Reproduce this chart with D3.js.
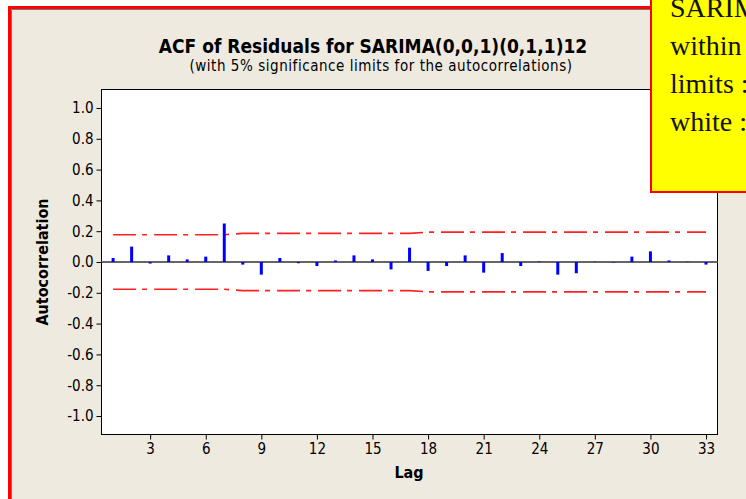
<!DOCTYPE html>
<html><head><meta charset="utf-8">
<script src="https://cdn.jsdelivr.net/npm/d3@7"></script>
<style>body{margin:0;background:#fff;overflow:hidden} svg{display:block}</style>
</head><body>
<svg id="c" width="746" height="499"></svg>
<script>
const lags = [1,2,3,4,5,6,7,8,9,10,11,12,13,14,15,16,17,18,19,20,21,22,23,24,25,26,27,28,29,30,31,32,33];
const acf = [0.026,0.100,-0.010,0.043,0.017,0.035,0.250,-0.017,-0.082,0.026,-0.008,-0.026,0.010,0.043,0.017,-0.048,0.093,-0.058,-0.026,0.043,-0.069,0.058,-0.026,0.003,-0.082,-0.073,0.002,-0.003,0.035,0.069,0.010,0.002,-0.017];
const upperLimit = [0.177,0.177,0.177,0.177,0.177,0.177,0.177,0.186,0.186,0.186,0.186,0.186,0.186,0.186,0.186,0.186,0.186,0.194,0.194,0.194,0.194,0.194,0.194,0.194,0.194,0.194,0.194,0.194,0.194,0.194,0.194,0.194,0.194];
const lowerLimit = [-0.177,-0.177,-0.177,-0.177,-0.177,-0.177,-0.177,-0.186,-0.186,-0.186,-0.186,-0.186,-0.186,-0.186,-0.186,-0.186,-0.186,-0.194,-0.194,-0.194,-0.194,-0.194,-0.194,-0.194,-0.194,-0.194,-0.194,-0.194,-0.194,-0.194,-0.194,-0.194,-0.194];
const xTicks = [3,6,9,12,15,18,21,24,27,30,33];
const yTicks = [1.0,0.8,0.6,0.4,0.2,0.0,-0.2,-0.4,-0.6,-0.8,-1.0];
const title = "ACF of Residuals for SARIMA(0,0,1)(0,1,1)12";
const subtitle = "(with 5% significance limits for the autocorrelations)";
const noteLines = ["SARIM", "within", "limits :", "white :"];

const svg = d3.select("#c");
const font = "'DejaVu Sans Condensed','DejaVu Sans',sans-serif";
const L = 101.5, R = 717.5, T = 89.5, B = 434.5;
const x = d3.scaleLinear().domain([0.374, 33.62]).range([L, R]);
const y = d3.scaleLinear().domain([-1.12, 1.12]).range([B, T]);

// outer frame
svg.append("rect").attr("x",0).attr("y",0).attr("width",746).attr("height",499).attr("fill","#fff");
svg.append("rect").attr("x",9.5).attr("y",7.5).attr("width",760).attr("height",520)
  .attr("fill","#EEEAE0").attr("stroke","#FF0000").attr("stroke-width",3);
svg.append("path").attr("d","M11.5,530 V9.5 H760").attr("fill","none").attr("stroke","#777").attr("stroke-width",1);

// title
svg.append("text").attr("x",373).attr("y",53).attr("text-anchor","middle")
  .attr("font-family",font).attr("font-weight","bold").attr("font-size",19).attr("fill","#000").text(title);
svg.append("text").attr("x",381).attr("y",71).attr("text-anchor","middle")
  .attr("font-family",font).attr("font-size",15).attr("letter-spacing",0.55).attr("fill","#000").text(subtitle);

// plot area
svg.append("rect").attr("x",L).attr("y",T).attr("width",R-L).attr("height",B-T)
  .attr("fill","#fff").attr("stroke","#000").attr("stroke-width",1);

// axes
const yAxis = d3.axisLeft(y).tickValues(yTicks).tickSize(5).tickPadding(3);
const gy = svg.append("g").attr("transform",`translate(${L},0)`).call(yAxis);
const xAxis = d3.axisBottom(x).tickValues(xTicks).tickSize(5).tickPadding(4);
const gx = svg.append("g").attr("transform",`translate(0,${B})`).call(xAxis);
[gx,gy].forEach(g=>{
  g.select(".domain").remove();
  g.selectAll("line").attr("stroke","#000");
  g.selectAll("text").attr("font-family",font).attr("font-size",15).attr("fill","#000");
});
gy.selectAll("text").text(d=>d3.format(".1f")(d).replace("−","-"));

// axis titles
svg.append("text").attr("transform","translate(48,262) rotate(-90)").attr("text-anchor","middle")
  .attr("font-family",font).attr("font-weight","bold").attr("font-size",16).text("Autocorrelation");
svg.append("text").attr("x",409).attr("y",478).attr("text-anchor","middle")
  .attr("font-family",font).attr("font-weight","bold").attr("font-size",16).text("Lag");

// zero line
svg.append("line").attr("x1",L).attr("x2",R).attr("y1",y(0)).attr("y2",y(0))
  .attr("stroke","#666").attr("stroke-width",2);

// limits
const line = d3.line().x((d,i)=>x(lags[i])).y(d=>y(d));
[upperLimit, lowerLimit].forEach(arr=>{
  svg.append("path").attr("d",line(arr)).attr("fill","none")
    .attr("stroke","#FF2020").attr("stroke-width",1.6).attr("stroke-dasharray","23,6,5,7");
});

// bars
svg.append("g").selectAll("line").data(acf).join("line")
  .attr("x1",(d,i)=>x(lags[i])).attr("x2",(d,i)=>x(lags[i]))
  .attr("y1",y(0)).attr("y2",d=>y(d))
  .attr("stroke","#0000FF").attr("stroke-width",3);

// yellow note box
svg.append("rect").attr("x",651).attr("y",-10).attr("width",120).attr("height",202)
  .attr("fill","#FFFF00").attr("stroke","#FF0000").attr("stroke-width",2);
svg.append("g").selectAll("text").data(noteLines).join("text")
  .attr("x",670).attr("y",(d,i)=>17+i*38)
  .attr("font-family","'Liberation Serif','DejaVu Serif',serif").attr("font-size",28).attr("fill","#111")
  .text(d=>d);
</script>
</body></html>
